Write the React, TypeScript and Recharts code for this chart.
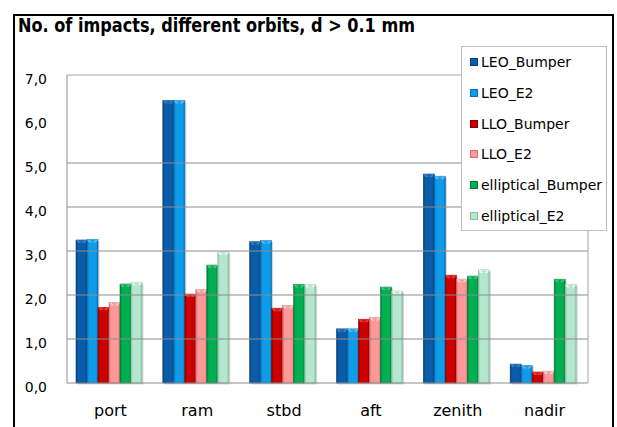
import React from 'react';
import { BarChart, Bar, XAxis, YAxis, ReferenceLine, Legend } from 'recharts';

const categories = ['port', 'ram', 'stbd', 'aft', 'zenith', 'nadir'];
const leoBumper = [3.25, 6.42, 3.21, 1.23, 4.75, 0.43];
const leoE2 = [3.26, 6.42, 3.24, 1.23, 4.7, 0.4];
const lloBumper = [1.72, 2.02, 1.7, 1.45, 2.45, 0.25];
const lloE2 = [1.83, 2.13, 1.76, 1.49, 2.36, 0.27];
const ellBumper = [2.25, 2.68, 2.24, 2.18, 2.43, 2.36];
const ellE2 = [2.29, 2.98, 2.24, 2.09, 2.57, 2.24];
const yTicks = [0, 1, 2, 3, 4, 5, 6, 7];
const gridValues = [1, 2, 3, 4, 5, 7];
const titleText = 'No. of impacts, different orbits, d > 0.1 mm';

const seriesNames = ['LEO_Bumper', 'LEO_E2', 'LLO_Bumper', 'LLO_E2', 'elliptical_Bumper', 'elliptical_E2'];
const seriesValues = [leoBumper, leoE2, lloBumper, lloE2, ellBumper, ellE2];
const baseColors = ['#0B5CA8', '#0E9BEA', '#CC0000', '#FF9999', '#00B050', '#B5E6CE'];
const darkColors = ['#063F7A', '#0A6FB0', '#8A0000', '#D07070', '#007A38', '#8CBFA6'];
const lightColors = ['#3A86D0', '#5CC4FF', '#FF4040', '#FFD0D0', '#40D080', '#E8FFF4'];

const data = categories.map((c, i) => {
  const row: Record<string, string | number> = { category: c };
  seriesNames.forEach((n, k) => {
    row[n] = seriesValues[k][i];
  });
  return row;
});

const FONT = '"DejaVu Sans", Verdana, sans-serif';

function BevelBar(props: any) {
  const { x, y, width, height, idx } = props;
  if (!height || height <= 0) return null;
  const w = width;
  const bev = Math.min(3, height);
  return (
    <g>
      <rect x={x + 1.5} y={y + 1.5} width={w} height={height} fill="rgba(0,0,0,0.16)" />
      <rect x={x} y={y} width={w} height={height} fill={`url(#grad${idx})`} stroke={darkColors[idx]} strokeWidth={0.6} />
      <polygon
        points={`${x},${y} ${x + w},${y} ${x + w - 2},${y + bev} ${x + 2},${y + bev}`}
        fill={lightColors[idx]}
        opacity={0.85}
      />
      <polygon
        points={`${x + w / 2 - 3},${y + 0.5} ${x + w / 2 + 3},${y + 0.5} ${x + w / 2},${y + bev + 0.5}`}
        fill={darkColors[idx]}
        opacity={0.45}
      />
    </g>
  );
}

function YTick(props: any) {
  const { x, y, payload } = props;
  return (
    <text x={x - 20} y={y + 9} textAnchor="end" fontFamily={FONT} fontSize={14} fill="#000">
      {Number(payload.value).toFixed(1).replace('.', ',')}
    </text>
  );
}

function XTick(props: any) {
  const { x, y, payload } = props;
  return (
    <text x={x} y={y + 33} textAnchor="middle" fontFamily={FONT} fontSize={16} fill="#000">
      {payload.value}
    </text>
  );
}

function LegendBox(props: any) {
  const payload = props.payload || [];
  return (
    <div
      style={{
        width: 146,
        height: 185,
        boxSizing: 'border-box',
        border: '1px solid #BEBEBE',
        background: '#fff',
        fontFamily: FONT,
        fontSize: 14,
        color: '#000',
      }}
    >
      {payload.map((entry: any, i: number) => (
        <div
          key={i}
          style={{ height: 30.7, display: 'flex', alignItems: 'center', paddingLeft: 8, whiteSpace: 'nowrap' }}
        >
          <span
            style={{
              display: 'inline-block',
              width: 6,
              height: 6,
              background: entry.color,
              border: `1px solid ${darkColors[i]}`,
              marginRight: 3,
            }}
          />
          <span>{entry.value}</span>
        </div>
      ))}
    </div>
  );
}

export default function App() {
  return (
    <div style={{ position: 'absolute', left: 0, top: 0, width: 617, height: 427, background: '#fff', overflow: 'hidden' }}>
      <BarChart
        width={617}
        height={427}
        data={data}
        margin={{ top: 75, right: 0, bottom: 0, left: 0 }}
        barCategoryGap={9}
        barGap={0}
      >
        <defs>
          {baseColors.map((c, i) => (
            <linearGradient key={i} id={`grad${i}`} x1="0" y1="0" x2="1" y2="0">
              <stop offset="0%" stopColor={darkColors[i]} />
              <stop offset="18%" stopColor={c} />
              <stop offset="82%" stopColor={c} />
              <stop offset="100%" stopColor={darkColors[i]} />
            </linearGradient>
          ))}
        </defs>
        <XAxis
          dataKey="category"
          height={44}
          tickLine={false}
          tickSize={0}
          tickMargin={0}
          axisLine={{ stroke: '#8C8C8C' }}
          tick={<XTick />}
          interval={0}
        />
        <YAxis
          yAxisId="l"
          width={67}
          domain={[0, 7]}
          ticks={yTicks}
          tickLine={false}
          tickSize={0}
          tickMargin={0}
          axisLine={{ stroke: '#8C8C8C' }}
          tick={<YTick />}
          interval={0}
        />
        <YAxis
          yAxisId="r"
          orientation="right"
          width={29}
          domain={[0, 7]}
          tick={false}
          tickLine={false}
          axisLine={{ stroke: '#A6A6A6' }}
        />
        {gridValues.map((v) => (
          <ReferenceLine key={v} yAxisId="l" y={v} stroke={v === 7 ? '#A6A6A6' : '#8C8C8C'} strokeWidth={1} />
        ))}
        {seriesNames.map((n, i) => (
          <Bar
            key={n}
            yAxisId="l"
            dataKey={n}
            name={n}
            fill={baseColors[i]}
            isAnimationActive={false}
            shape={(p: any) => <BevelBar {...p} idx={i} />}
          />
        ))}
        <Legend
          layout="vertical"
          align="center"
          verticalAlign="middle"
          content={<LegendBox />}
          wrapperStyle={{ position: 'absolute', left: 461, top: 46, width: 146, height: 185, right: 'auto', bottom: 'auto' }}
        />
      </BarChart>
      <svg width={617} height={427} style={{ position: 'absolute', left: 0, top: 0, pointerEvents: 'none' }}>
        <rect x={14} y={15} width={599} height={430} fill="none" stroke="#000" strokeWidth={2} />
        <text
          x={18}
          y={32}
          fontFamily='"DejaVu Sans Condensed", "DejaVu Sans", sans-serif'
          fontWeight="bold"
          fontSize={19}
          textLength={397}
          lengthAdjust="spacingAndGlyphs"
          fill="#000"
        >
          {titleText}
        </text>
      </svg>
    </div>
  );
}
